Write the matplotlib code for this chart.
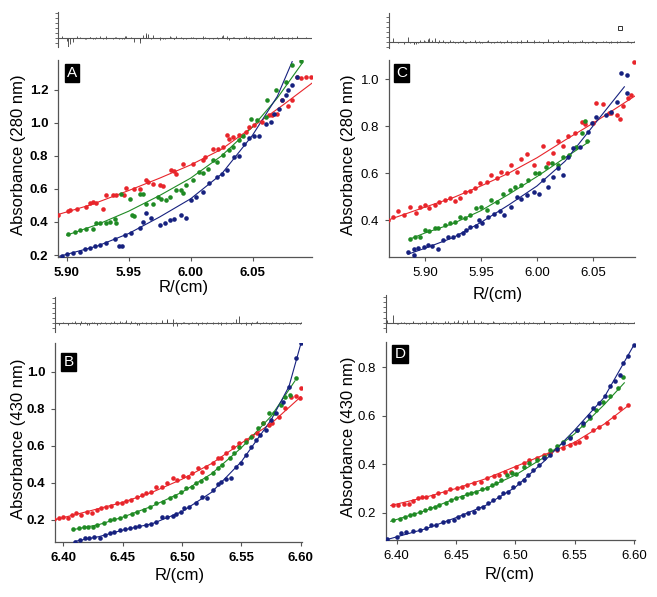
import matplotlib
matplotlib.use("Agg")
import matplotlib.pyplot as plt

plt.rcParams['font.family'] = ['Liberation Sans', 'DejaVu Sans']

RED = '#e8252b'
GREEN = '#1f8a24'
BLUE = '#16217f'
GREY = '#555555'

# ---- panel A (280 nm) ----
a_red_x = [5.893, 5.901, 5.903, 5.908, 5.916, 5.919, 5.921, 5.924, 5.929, 5.932,
           5.937, 5.940, 5.946, 5.948, 5.954, 5.959, 5.964, 5.966, 5.970, 5.975,
           5.978, 5.984, 5.987, 5.988, 5.994, 6.002, 6.010, 6.012, 6.018, 6.022,
           6.026, 6.029, 6.031, 6.034, 6.039, 6.045, 6.047, 6.051, 6.058, 6.063,
           6.066, 6.070, 6.074, 6.079, 6.082, 6.086, 6.089, 6.093, 6.097]
a_red_y = [0.445, 0.468, 0.472, 0.478, 0.488, 0.512, 0.520, 0.516, 0.480, 0.566,
           0.562, 0.566, 0.562, 0.608, 0.602, 0.600, 0.653, 0.643, 0.629, 0.622,
           0.620, 0.717, 0.709, 0.693, 0.749, 0.753, 0.773, 0.794, 0.844, 0.840,
           0.854, 0.924, 0.904, 0.914, 0.924, 0.944, 0.975, 0.985, 1.005, 1.045,
           1.049, 1.051, 1.136, 1.099, 1.140, 1.276, 1.272, 1.280, 1.280]
a_green_x = [5.901, 5.907, 5.911, 5.916, 5.921, 5.924, 5.927, 5.932, 5.935, 5.939,
             5.940, 5.944, 5.951, 5.953, 5.954, 5.959, 5.962, 5.964, 5.970, 5.974,
             5.976, 5.980, 5.983, 5.988, 5.992, 5.994, 5.996, 6.002, 6.007, 6.010,
             6.014, 6.018, 6.021, 6.026, 6.031, 6.034, 6.039, 6.042, 6.049, 6.054,
             6.061, 6.062, 6.069, 6.077, 6.082, 6.089]
a_green_y = [0.325, 0.340, 0.351, 0.355, 0.360, 0.391, 0.395, 0.395, 0.401, 0.415,
             0.395, 0.572, 0.536, 0.443, 0.435, 0.572, 0.568, 0.508, 0.508, 0.552,
             0.536, 0.532, 0.552, 0.592, 0.592, 0.576, 0.623, 0.653, 0.703, 0.699,
             0.723, 0.773, 0.763, 0.803, 0.834, 0.854, 0.894, 0.918, 1.025, 1.015,
             1.035, 1.136, 1.196, 1.246, 1.347, 1.374]
a_blue_x = [5.896, 5.900, 5.905, 5.911, 5.915, 5.919, 5.923, 5.927, 5.932, 5.939,
            5.942, 5.945, 5.947, 5.952, 5.959, 5.962, 5.964, 5.968, 5.975, 5.979,
            5.983, 5.987, 5.992, 5.996, 6.000, 6.004, 6.010, 6.015, 6.021, 6.025,
            6.029, 6.035, 6.039, 6.043, 6.047, 6.051, 6.055, 6.061, 6.065, 6.067,
            6.071, 6.074, 6.077, 6.079, 6.082, 6.086]
a_blue_y = [0.194, 0.206, 0.214, 0.220, 0.234, 0.240, 0.254, 0.260, 0.274, 0.295,
            0.256, 0.256, 0.321, 0.331, 0.361, 0.401, 0.452, 0.421, 0.381, 0.391,
            0.411, 0.415, 0.441, 0.421, 0.532, 0.552, 0.582, 0.637, 0.673, 0.693,
            0.713, 0.794, 0.800, 0.870, 0.910, 0.918, 0.920, 0.995, 1.005, 1.055,
            1.085, 1.136, 1.166, 1.196, 1.226, 1.280]
a_fit_red_x = [5.893, 5.920, 5.950, 5.975, 6.000, 6.025, 6.050, 6.075, 6.098]
a_fit_red_y = [0.445, 0.505, 0.590, 0.665, 0.745, 0.840, 0.975, 1.110, 1.240]
a_fit_green_x = [5.900, 5.925, 5.950, 5.975, 6.000, 6.025, 6.050, 6.070, 6.090]
a_fit_green_y = [0.320, 0.385, 0.465, 0.560, 0.665, 0.800, 0.975, 1.150, 1.360]
a_fit_blue_x = [5.893, 5.925, 5.950, 5.975, 6.000, 6.025, 6.050, 6.070, 6.082]
a_fit_blue_y = [0.190, 0.255, 0.330, 0.430, 0.540, 0.690, 0.925, 1.160, 1.370]
a_resid = [1.2, -1.8, -1.3, 0.3, -0.2, 0.2, -0.3,
           0.2, -0.2, 0.3, -0.3, 0.2, -0.2, 0.3,
           -0.8, -1.1, 0.9, 0.8, 0.5, -0.4, -0.3,
           0.2, -0.2, 0.3, -0.2, 0.1, -0.3, 0.2,
           -0.2, -0.3, 0.5, 0.4, -0.4, 0.2, -0.2,
           0.3, 0.2, -0.2, 0.2, -0.1, 0.2, -0.2,
           0.1, -0.2, 0.2, 0.3, -0.1, 0.2, -0.1]
a_resid2 = [0.4, -0.6, -0.9, 0.2, -0.3, 0.2, -0.2, 0.3, -0.2, 0.2,
            -0.3, -0.2, 0.3, 0.2, -0.4, 0.6, 0.5, -0.3, 0.2, -0.2,
            0.3, -0.2, 0.2, -0.3, 0.2, -0.2, 0.3, -0.2, 0.2, 0.4,
            -0.3, 0.2, -0.2, 0.2, -0.3, 0.2, -0.2, 0.2, -0.2, 0.3,
            -0.2, 0.2, -0.1, 0.2, -0.2, 0.1]

# ---- panel C (280 nm) ----
c_red_x = [5.867, 5.872, 5.876, 5.881, 5.887, 5.892, 5.896, 5.900, 5.904, 5.909,
           5.913, 5.918, 5.922, 5.927, 5.931, 5.936, 5.940, 5.945, 5.949, 5.955,
           5.959, 5.964, 5.968, 5.973, 5.977, 5.982, 5.986, 5.991, 5.997, 6.005,
           6.010, 6.014, 6.019, 6.023, 6.028, 6.034, 6.040, 6.043, 6.050, 6.053,
           6.059, 6.064, 6.066, 6.071, 6.074, 6.077, 6.081, 6.084, 6.087]
c_red_y = [0.400, 0.414, 0.440, 0.421, 0.454, 0.431, 0.454, 0.464, 0.450, 0.464,
           0.478, 0.485, 0.492, 0.482, 0.496, 0.520, 0.524, 0.535, 0.559, 0.563,
           0.591, 0.577, 0.603, 0.599, 0.634, 0.605, 0.662, 0.681, 0.634, 0.715,
           0.641, 0.685, 0.738, 0.716, 0.757, 0.769, 0.818, 0.808, 0.814, 0.896,
           0.893, 0.854, 0.854, 0.847, 0.828, 0.885, 0.918, 0.932, 1.074]
c_green_x = [5.887, 5.891, 5.896, 5.900, 5.904, 5.909, 5.912, 5.918, 5.922, 5.927,
             5.931, 5.936, 5.940, 5.946, 5.950, 5.955, 5.959, 5.964, 5.970, 5.976,
             5.980, 5.986, 5.992, 5.998, 6.002, 6.008, 6.013, 6.019, 6.023, 6.029,
             6.035, 6.040, 6.043, 6.045]
c_green_y = [0.318, 0.326, 0.329, 0.357, 0.354, 0.365, 0.365, 0.379, 0.386, 0.393,
             0.414, 0.407, 0.421, 0.450, 0.454, 0.443, 0.485, 0.478, 0.513, 0.528,
             0.542, 0.549, 0.570, 0.599, 0.599, 0.627, 0.641, 0.634, 0.670, 0.677,
             0.712, 0.769, 0.823, 0.738]
c_blue_x = [5.885, 5.890, 5.890, 5.894, 5.899, 5.903, 5.906, 5.912, 5.916, 5.921,
            5.925, 5.930, 5.934, 5.937, 5.940, 5.946, 5.948, 5.951, 5.956, 5.962,
            5.967, 5.971, 5.977, 5.982, 5.986, 5.991, 5.997, 6.002, 6.005, 6.010,
            6.014, 6.019, 6.023, 6.028, 6.032, 6.038, 6.046, 6.049, 6.053, 6.062,
            6.066, 6.071, 6.075, 6.080, 6.080]
c_blue_y = [0.265, 0.251, 0.279, 0.283, 0.286, 0.293, 0.289, 0.279, 0.315, 0.326,
            0.329, 0.336, 0.343, 0.357, 0.372, 0.374, 0.400, 0.386, 0.414, 0.428,
            0.440, 0.421, 0.457, 0.499, 0.488, 0.506, 0.520, 0.513, 0.570, 0.542,
            0.584, 0.620, 0.591, 0.670, 0.705, 0.712, 0.776, 0.811, 0.840, 0.847,
            0.861, 0.904, 1.024, 1.017, 0.939]
c_fit_red_x = [5.867, 5.900, 5.925, 5.950, 5.975, 6.000, 6.025, 6.050, 6.0875]
c_fit_red_y = [0.400, 0.455, 0.495, 0.545, 0.600, 0.665, 0.740, 0.812, 0.928]
c_fit_green_x = [5.887, 5.900, 5.925, 5.950, 5.975, 6.000, 6.025, 6.047]
c_fit_green_y = [0.320, 0.345, 0.385, 0.440, 0.510, 0.585, 0.665, 0.735]
c_fit_blue_x = [5.885, 5.900, 5.925, 5.950, 5.975, 6.000, 6.025, 6.050, 6.078]
c_fit_blue_y = [0.255, 0.280, 0.325, 0.390, 0.465, 0.545, 0.650, 0.800, 0.967]
c_resid = [2.0, 0.8, -0.3, -0.4, -0.3, -0.4, 0.3,
           0.2, 0.7, 0.8, 0.3, -0.2, 0.3, -0.3,
           0.2, -0.3, 0.2, 0.3, -0.2, 0.2, -0.3,
           0.2, -0.2, 0.3, -0.2, 0.2, -0.3, 0.3,
           0.4, -0.3, 0.5, -0.2, 0.3, -0.3, 0.2,
           -0.2, 0.3, -0.2, 0.2, -0.3, 0.2, -0.2,
           0.2, -0.2, 0.2, -0.1, 0.2, -0.2, 0.2]
c_resid2 = [0.9, -0.4, -0.5, -0.3, 0.4, 0.5, 0.3, -0.2, 0.3, -0.3,
            0.2, -0.2, 0.3, -0.2, 0.2, -0.3, 0.2, -0.2, 0.3, -0.2,
            0.2, -0.3, 0.2, -0.2, 0.3, 0.3, -0.2, 0.2, -0.3, 0.2,
            -0.2, 0.2, -0.2, 0.3, -0.2, 0.2, -0.2, 0.2, -0.3, 0.2,
            -0.2, 0.2, -0.1, 0.2, -0.1]
c_outlier_x = [6.074]
c_outlier_y = [2.8]

# ---- panel B (430 nm) ----
b_red_x = [6.392, 6.396, 6.400, 6.404, 6.407, 6.411, 6.415, 6.420, 6.424, 6.428,
           6.432, 6.436, 6.440, 6.445, 6.449, 6.453, 6.457, 6.462, 6.466, 6.470,
           6.474, 6.478, 6.483, 6.487, 6.492, 6.496, 6.501, 6.505, 6.508, 6.513,
           6.517, 6.520, 6.526, 6.530, 6.533, 6.537, 6.543, 6.548, 6.554, 6.559,
           6.563, 6.568, 6.573, 6.576, 6.582, 6.587, 6.592, 6.596, 6.599, 6.600]
b_red_y = [0.204, 0.209, 0.218, 0.209, 0.227, 0.236, 0.227, 0.245, 0.240, 0.254,
           0.263, 0.272, 0.276, 0.290, 0.290, 0.304, 0.308, 0.326, 0.335, 0.344,
           0.353, 0.380, 0.380, 0.401, 0.425, 0.416, 0.437, 0.434, 0.452, 0.479,
           0.461, 0.488, 0.506, 0.533, 0.533, 0.560, 0.596, 0.613, 0.631, 0.653,
           0.667, 0.721, 0.712, 0.725, 0.757, 0.802, 0.865, 0.869, 0.856, 0.910]
b_green_x = [6.408, 6.413, 6.417, 6.421, 6.425, 6.428, 6.434, 6.439, 6.443, 6.448,
             6.452, 6.458, 6.462, 6.468, 6.473, 6.478, 6.484, 6.490, 6.494, 6.499,
             6.503, 6.508, 6.512, 6.516, 6.520, 6.526, 6.530, 6.534, 6.540, 6.544,
             6.548, 6.554, 6.558, 6.564, 6.568, 6.573, 6.577, 6.583, 6.587, 6.591,
             6.596]
b_green_y = [0.151, 0.155, 0.160, 0.164, 0.160, 0.173, 0.182, 0.200, 0.204, 0.209,
             0.222, 0.231, 0.245, 0.254, 0.272, 0.290, 0.295, 0.317, 0.330, 0.353,
             0.371, 0.380, 0.398, 0.412, 0.425, 0.455, 0.479, 0.497, 0.533, 0.560,
             0.596, 0.622, 0.649, 0.694, 0.721, 0.775, 0.775, 0.820, 0.865, 0.874,
             0.964]
b_blue_x = [6.410, 6.414, 6.418, 6.422, 6.426, 6.431, 6.435, 6.439, 6.443, 6.448,
            6.452, 6.456, 6.460, 6.464, 6.470, 6.474, 6.478, 6.483, 6.487, 6.492,
            6.495, 6.499, 6.502, 6.506, 6.512, 6.517, 6.521, 6.526, 6.530, 6.533,
            6.537, 6.541, 6.545, 6.550, 6.554, 6.558, 6.562, 6.566, 6.571, 6.575,
            6.579, 6.585, 6.590, 6.596, 6.600]
b_blue_y = [0.083, 0.092, 0.101, 0.101, 0.110, 0.101, 0.119, 0.128, 0.137, 0.146,
            0.150, 0.155, 0.160, 0.168, 0.173, 0.178, 0.191, 0.214, 0.218, 0.222,
            0.232, 0.245, 0.263, 0.268, 0.290, 0.326, 0.317, 0.362, 0.394, 0.407,
            0.419, 0.425, 0.488, 0.506, 0.551, 0.596, 0.632, 0.658, 0.685, 0.739,
            0.775, 0.838, 0.919, 1.072, 1.153]
b_fit_red_x = [6.392, 6.420, 6.450, 6.475, 6.500, 6.525, 6.550, 6.575, 6.600]
b_fit_red_y = [0.200, 0.245, 0.295, 0.350, 0.420, 0.505, 0.615, 0.720, 0.865]
b_fit_green_x = [6.410, 6.430, 6.450, 6.475, 6.500, 6.525, 6.550, 6.575, 6.595]
b_fit_green_y = [0.150, 0.175, 0.215, 0.275, 0.350, 0.450, 0.590, 0.760, 0.950]
b_fit_blue_x = [6.410, 6.430, 6.450, 6.475, 6.500, 6.525, 6.550, 6.575, 6.590, 6.600]
b_fit_blue_y = [0.085, 0.110, 0.145, 0.180, 0.245, 0.350, 0.515, 0.740, 0.920, 1.150]
b_resid = [1.7, -0.3, 0.3, -0.4, 0.3, -0.2, 0.4,
           -0.3, 0.2, -0.3, 0.2, -0.2, 0.3, -0.2,
           0.3, 0.7, 0.5, -0.3, 0.2, -0.2, 0.3,
           -0.2, 0.3, 0.8, 0.8, -0.6, 0.3, -0.2,
           0.2, -0.3, 0.2, -0.2, 0.2, -0.2, 0.3,
           -0.2, 0.2, 1.5, -0.3, 0.2, 0.5, 0.3,
           -0.2, 0.2, -0.1, 0.2, -0.2, 0.1, -0.1, 0.2]
b_resid2 = [0.5, -0.3, 0.2, -0.4, 0.3, -0.2, 0.3, -0.2, 0.4, 0.5,
            0.3, -0.2, 0.2, -0.3, 0.2, -0.2, 0.3, 0.6, 0.7, -0.5,
            0.2, -0.2, 0.3, -0.2, 0.2, -0.2, 0.3, -0.2, 0.2, -0.3,
            0.2, -0.2, 0.8, -0.2, 0.2, -0.3, 0.3, -0.2, 0.2, -0.2,
            0.2, -0.1, 0.2, -0.2, 0.1]

# ---- panel D (430 nm) ----
d_red_x = [6.397, 6.401, 6.406, 6.410, 6.414, 6.418, 6.421, 6.425, 6.431, 6.435,
           6.441, 6.445, 6.451, 6.455, 6.459, 6.465, 6.471, 6.476, 6.482, 6.486,
           6.491, 6.496, 6.501, 6.507, 6.512, 6.518, 6.524, 6.529, 6.535, 6.540,
           6.546, 6.550, 6.554, 6.560, 6.566, 6.571, 6.577, 6.583, 6.588, 6.595]
d_red_y = [0.232, 0.234, 0.236, 0.238, 0.250, 0.260, 0.266, 0.266, 0.269, 0.280,
           0.287, 0.296, 0.304, 0.307, 0.314, 0.324, 0.328, 0.342, 0.351, 0.356,
           0.369, 0.369, 0.390, 0.404, 0.417, 0.424, 0.438, 0.445, 0.459, 0.466,
           0.479, 0.489, 0.493, 0.514, 0.541, 0.555, 0.569, 0.596, 0.631, 0.644]
d_green_x = [6.397, 6.403, 6.407, 6.411, 6.415, 6.420, 6.424, 6.428, 6.432, 6.436,
             6.442, 6.446, 6.450, 6.455, 6.459, 6.463, 6.467, 6.472, 6.476, 6.480,
             6.484, 6.488, 6.493, 6.497, 6.501, 6.507, 6.512, 6.518, 6.524, 6.529,
             6.535, 6.540, 6.546, 6.552, 6.557, 6.563, 6.568, 6.574, 6.580, 6.587,
             6.591]
d_green_y = [0.170, 0.173, 0.183, 0.190, 0.194, 0.204, 0.211, 0.218, 0.225, 0.232,
             0.239, 0.252, 0.259, 0.266, 0.277, 0.280, 0.287, 0.297, 0.300, 0.314,
             0.324, 0.335, 0.356, 0.363, 0.360, 0.390, 0.404, 0.418, 0.431, 0.459,
             0.473, 0.493, 0.514, 0.541, 0.562, 0.589, 0.624, 0.658, 0.679, 0.713,
             0.759]
d_blue_x = [6.392, 6.400, 6.404, 6.408, 6.414, 6.420, 6.425, 6.429, 6.433, 6.439,
            6.443, 6.448, 6.452, 6.456, 6.460, 6.465, 6.469, 6.473, 6.477, 6.481,
            6.486, 6.490, 6.494, 6.498, 6.503, 6.507, 6.511, 6.515, 6.520, 6.524,
            6.529, 6.535, 6.540, 6.546, 6.552, 6.557, 6.562, 6.566, 6.571, 6.576,
            6.580, 6.584, 6.588, 6.591, 6.595, 6.600]
d_blue_y = [0.094, 0.101, 0.115, 0.122, 0.126, 0.131, 0.139, 0.149, 0.149, 0.163,
            0.167, 0.172, 0.183, 0.190, 0.200, 0.204, 0.218, 0.225, 0.239, 0.252,
            0.266, 0.280, 0.287, 0.307, 0.323, 0.335, 0.356, 0.376, 0.397, 0.424,
            0.438, 0.461, 0.486, 0.507, 0.541, 0.569, 0.599, 0.631, 0.651, 0.679,
            0.720, 0.741, 0.768, 0.816, 0.844, 0.892]
d_fit_red_x = [6.395, 6.425, 6.450, 6.475, 6.500, 6.525, 6.550, 6.575, 6.595]
d_fit_red_y = [0.230, 0.265, 0.300, 0.340, 0.390, 0.440, 0.490, 0.565, 0.640]
d_fit_green_x = [6.395, 6.425, 6.450, 6.475, 6.500, 6.525, 6.550, 6.575, 6.592]
d_fit_green_y = [0.165, 0.210, 0.260, 0.300, 0.355, 0.430, 0.525, 0.645, 0.735]
d_fit_blue_x = [6.392, 6.425, 6.450, 6.475, 6.500, 6.525, 6.550, 6.575, 6.600]
d_fit_blue_y = [0.090, 0.135, 0.180, 0.230, 0.305, 0.415, 0.540, 0.675, 0.890]
d_resid = [1.5, -0.3, 0.2, -0.2, 0.3, -0.2, 0.2,
           -0.3, 0.3, -0.2, 0.4, -0.3, 0.2, -0.2,
           0.6, 0.5, 0.4, -0.2, 0.2, -0.3, 0.2,
           -0.2, 0.3, -0.2, 0.2, -0.3, 0.3, -0.2,
           0.2, -0.2, 0.3, -0.2, 0.2, -0.3, 0.2,
           -0.2, 0.2, -0.2, 0.2, -0.1]
d_resid2 = [0.6, -0.3, 0.2, -0.3, 0.2, -0.2, 0.3, -0.2, 0.2, -0.3,
            0.3, 0.4, 0.5, 0.3, -0.2, 0.2, -0.3, 0.2, -0.2, 0.3,
            -0.2, 0.2, -0.3, 0.2, -0.2, 0.3, -0.2, 0.2, -0.2, 0.3,
            -0.2, 0.2, -0.3, 0.2, -0.2, 0.2, -0.2, 0.3, -0.2, 0.2,
            -0.2, 0.2, -0.1, 0.2, -0.2, 0.1]

W, H = 657, 597
fig = plt.figure(figsize=(W / 100, H / 100), dpi=100)


def px_rect(left, top, right, bottom):
    return [left / W, 1 - bottom / H, (right - left) / W, (bottom - top) / H]


def style_axes(ax, bold):
    for s in ['top', 'right']:
        ax.spines[s].set_visible(False)
    for s in ['left', 'bottom']:
        ax.spines[s].set_color(GREY)
        ax.spines[s].set_linewidth(0.9)
    ax.tick_params(direction='out', length=3, width=0.8, color=GREY,
                   labelsize=9.5, pad=4)
    if bold:
        for lab in ax.get_xticklabels() + ax.get_yticklabels():
            lab.set_fontweight('bold')


def panel(main_rect, res_rect, xlim, ylim, yticks, xticks,
          series, fits, resids, res_lim, letter, letter_pos,
          ylabel, ylab_x, xlab_pos, bold):
    ax = fig.add_axes(px_rect(*main_rect))
    for (x, y), c in zip(series, [RED, GREEN, BLUE]):
        ax.plot(x, y, 'o', color=c, ms=3.3, mew=0, zorder=3)
    for (x, y), c in zip(fits, [RED, GREEN, BLUE]):
        ax.plot(x, y, '-', color=c, lw=0.8, zorder=2)
    ax.set_xlim(xlim)
    ax.set_ylim(ylim)
    ax.set_yticks(yticks)
    ax.set_xticks(xticks)
    ax.set_xticklabels(['%.2f' % v for v in xticks])
    ax.set_yticklabels(['%.1f' % v for v in yticks])
    style_axes(ax, bold)
    ax.set_ylabel(ylabel, fontsize=12)
    ax.yaxis.set_label_coords(ylab_x, 0.52)
    ax.set_xlabel('R/(cm)', fontsize=12)
    ax.xaxis.set_label_coords(*xlab_pos)
    ax.text(letter_pos[0], letter_pos[1], letter, transform=ax.transAxes,
            color='white', fontsize=11, ha='left', va='top',
            bbox=dict(boxstyle='square,pad=0.15', fc='black', ec='black'))

    rx = fig.add_axes(px_rect(*res_rect))
    for x, r in resids:
        rx.vlines(x, 0, r, color='#3a3a3a', lw=0.6)
    rx.axhline(0, color=GREY, lw=0.8)
    rx.set_xlim(xlim)
    rx.set_ylim(res_lim)
    rx.set_yticks(range(int(res_lim[0]), int(res_lim[1]) + 1))
    rx.set_yticklabels([])
    rx.set_xticks([])
    for s in ['top', 'right', 'bottom']:
        rx.spines[s].set_visible(False)
    rx.spines['left'].set_color(GREY)
    rx.spines['left'].set_linewidth(0.8)
    rx.tick_params(axis='y', direction='out', length=2, width=0.6, color=GREY)
    rx.patch.set_alpha(0)
    return ax, rx


xt280 = [5.90, 5.95, 6.00, 6.05]
xt430 = [6.40, 6.45, 6.50, 6.55, 6.60]

panel((58, 60, 312, 257), (58, 11.7, 312, 46.7), (5.893, 6.098), (0.188, 1.38),
      [0.2, 0.4, 0.6, 0.8, 1.0, 1.2], xt280,
      [(a_red_x, a_red_y), (a_green_x, a_green_y), (a_blue_x, a_blue_y)],
      [(a_fit_red_x, a_fit_red_y), (a_fit_green_x, a_fit_green_y), (a_fit_blue_x, a_fit_blue_y)],
      [(a_red_x, a_resid), (a_blue_x, a_resid2)], (-1.8, 5.2), 'A', (0.035, 0.97),
      'Absorbance (280 nm)', -0.126, (0.496, -0.115), True)

_, rc = panel((389, 60, 635, 257), (389, 13, 635, 48), (5.868, 6.0875), (0.243, 1.081),
              [0.4, 0.6, 0.8, 1.0], xt280,
              [(c_red_x, c_red_y), (c_green_x, c_green_y), (c_blue_x, c_blue_y)],
              [(c_fit_red_x, c_fit_red_y), (c_fit_green_x, c_fit_green_y), (c_fit_blue_x, c_fit_blue_y)],
              [(c_red_x, c_resid), (c_blue_x, c_resid2)], (-1.3, 5.7), 'C', (0.028, 0.97),
              'Absorbance (280 nm)', -0.134, (0.443, -0.152), False)
rc.plot(c_outlier_x, c_outlier_y, 's', ms=3, mfc='white', mec='#333333', mew=0.7)

panel((55, 343, 302, 542), (55, 296.7, 302, 331.7), (6.393, 6.601), (0.081, 1.155),
      [0.2, 0.4, 0.6, 0.8, 1.0], xt430,
      [(b_red_x, b_red_y), (b_green_x, b_green_y), (b_blue_x, b_blue_y)],
      [(b_fit_red_x, b_fit_red_y), (b_fit_green_x, b_fit_green_y), (b_fit_blue_x, b_fit_blue_y)],
      [(b_red_x, b_resid), (b_blue_x, b_resid2)], (-1.7, 5.3), 'B', (0.035, 0.94),
      'Absorbance (430 nm)', -0.117, (0.506, -0.13), True)

panel((386, 342, 635, 540), (386, 295, 635, 331.7), (6.391, 6.601), (0.088, 0.903),
      [0.2, 0.4, 0.6, 0.8], xt430,
      [(d_red_x, d_red_y), (d_green_x, d_green_y), (d_blue_x, d_blue_y)],
      [(d_fit_red_x, d_fit_red_y), (d_fit_green_x, d_fit_green_y), (d_fit_blue_x, d_fit_blue_y)],
      [(d_red_x, d_resid), (d_blue_x, d_resid2)], (-1.7, 5.3), 'D', (0.035, 0.975),
      'Absorbance (430 nm)', -0.12, (0.498, -0.136), False)

fig.savefig('out.png', dpi=100)
